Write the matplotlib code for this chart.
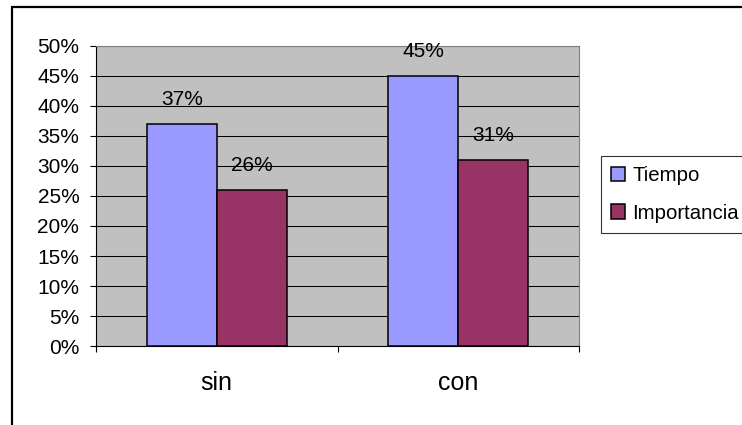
import numpy as np
import matplotlib
matplotlib.use("Agg")
import matplotlib.pyplot as plt
from matplotlib.patches import Rectangle
from matplotlib.ticker import FuncFormatter

plt.rcParams['font.family'] = ['Liberation Sans', 'DejaVu Sans']

categories = ['sin', 'con']
tiempo = [0.37, 0.45]
importancia = [0.26, 0.31]
series_names = ['Tiempo', 'Importancia']
y_ticks = [0.0, 0.05, 0.10, 0.15, 0.20, 0.25, 0.30, 0.35, 0.40, 0.45, 0.50]

W, H = 742, 425
fig = plt.figure(figsize=(W / 100, H / 100), dpi=100)
fig.patch.set_facecolor('white')

# plot area in pixel coordinates
left, right, top, bottom = 96, 579, 46, 346
ax = fig.add_axes([left / W, 1 - bottom / H, (right - left) / W, (bottom - top) / H])
ax.set_facecolor('#C0C0C0')

x = np.arange(len(categories))
w = 0.29
b1 = ax.bar(x - w / 2, tiempo, w, color='#9999FF', edgecolor='black', linewidth=1.1,
            label=series_names[0], zorder=3)
b2 = ax.bar(x + w / 2, importancia, w, color='#993366', edgecolor='black', linewidth=1.1,
            label=series_names[1], zorder=3)

for bars, vals in ((b1, tiempo), (b2, importancia)):
    for rect, v in zip(bars, vals):
        ax.annotate(f'{v * 100:.0f}%', (rect.get_x() + rect.get_width() / 2, v),
                    xytext=(0, 15), textcoords='offset pixels',
                    ha='center', va='bottom', fontsize=15, color='black', zorder=4)

ax.set_xlim(-0.5, len(categories) - 0.5)
ax.set_ylim(0, 0.5)
ax.set_yticks(y_ticks)
ax.yaxis.set_major_formatter(FuncFormatter(lambda v, _: f'{v * 100:.0f}%'))
ax.yaxis.grid(True, color='black', linewidth=0.75, zorder=1)
ax.set_axisbelow(True)

ax.set_xticks(x)
ax.set_xticklabels(categories)
ax.set_xticks(np.arange(-0.5, len(categories)), minor=True)
ax.tick_params(axis='x', which='major', length=0, pad=18, labelsize=18)
ax.tick_params(axis='x', which='minor', length=4, width=0.8, direction='out')
ax.tick_params(axis='y', length=4, width=0.8, direction='out', pad=8, labelsize=15)

for side in ('top', 'right'):
    ax.spines[side].set_color('#808080')
    ax.spines[side].set_linewidth(0.8)
for side in ('left', 'bottom'):
    ax.spines[side].set_color('black')
    ax.spines[side].set_linewidth(0.8)

leg = fig.legend(loc='upper left', bbox_to_anchor=(601 / W, 1 - 156 / H),
                 bbox_transform=fig.transFigure, fontsize=14.7,
                 frameon=True, fancybox=False, shadow=False,
                 handlelength=0.69, handleheight=0.69, handletextpad=0.34,
                 labelspacing=0.9, borderpad=0.5, borderaxespad=0)
leg.get_frame().set_edgecolor('black')
leg.get_frame().set_linewidth(0.8)
for h in leg.legend_handles:
    h.set_linewidth(1.1)

# outer chart border, running past the right and bottom edges
frame = Rectangle((12.5 / W, -0.1), 1.1, 1 - 6.5 / H + 0.1, transform=fig.transFigure,
                  fill=False, edgecolor='black', linewidth=1.6, clip_on=False)
fig.patches.append(frame)

fig.savefig('out.png', dpi=100)
